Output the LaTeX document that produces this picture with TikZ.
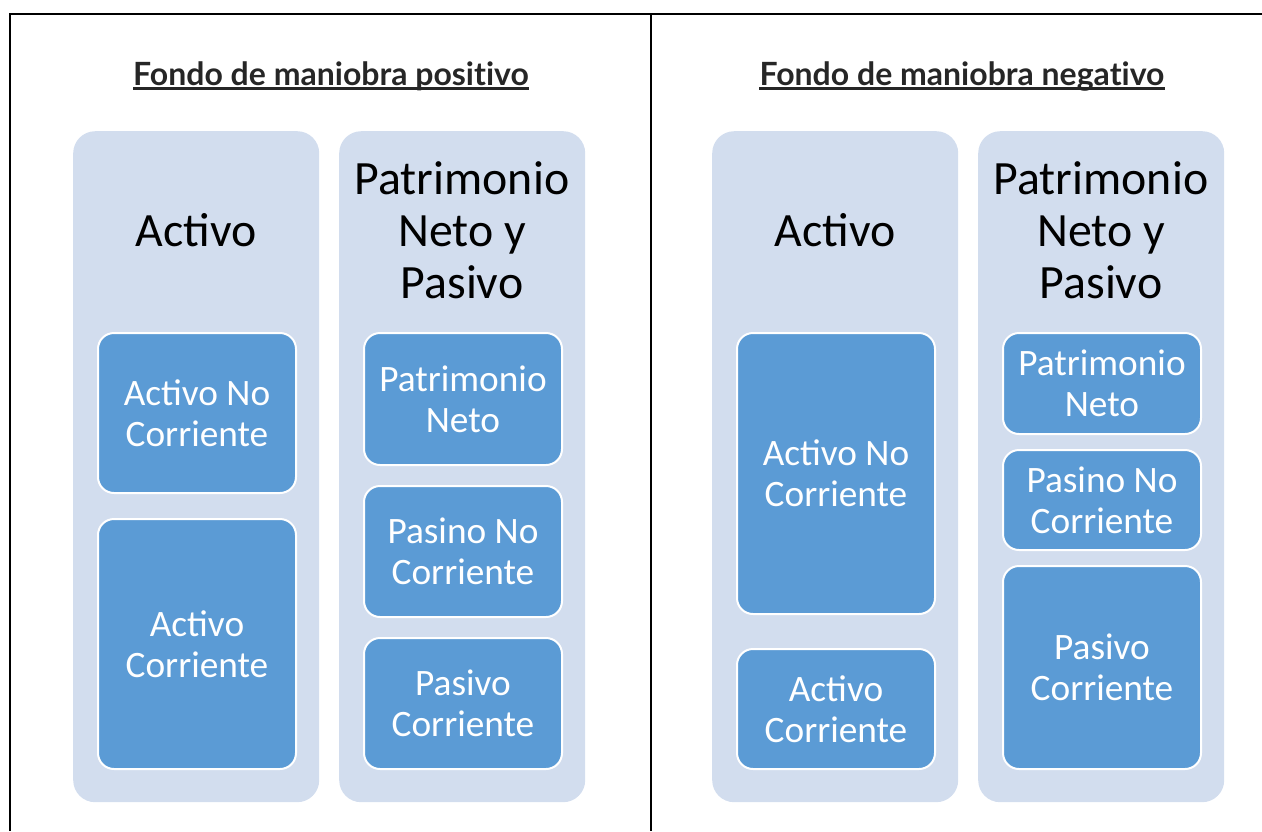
\documentclass[tikz,border=0pt]{standalone}
\usepackage{fontspec}
\setmainfont{Carlito}
\newfontfamily\titlefont[Ligatures=CommonOff]{Lato}
\usepackage{xcolor}
\definecolor{outerfill}{HTML}{D2DDEE}
\definecolor{innerfill}{HTML}{5B9BD5}
\definecolor{titlecol}{HTML}{262626}
\begin{document}
\begin{tikzpicture}[x=1pt,y=-1pt,
  outerbox/.style={fill=outerfill, draw=none, rounded corners=22pt, anchor=north west, minimum width=246pt, minimum height=671pt, inner sep=0pt},
  innerbox/.style={fill=innerfill, draw=white, line width=2pt, rounded corners=16pt, anchor=north west, minimum width=198pt, inner sep=0pt, text=white, align=center, font=\fontsize{37.3}{41}\selectfont},
  headtext/.style={align=center, text=black, font=\fontsize{47.8}{52}\selectfont, inner sep=0pt},
  titletext/.style={text=titlecol, font=\titlefont\bfseries\fontsize{32}{38}\selectfont, inner sep=0pt, anchor=base},
  uline/.style={draw=titlecol, line width=2.4pt},
  frame/.style={line width=2.5pt, black}]
\useasboundingbox (0,0) rectangle (1262,831);
% frame
\coordinate (ftl) at (10,14);
\coordinate (ftr) at (1262,14);
\coordinate (fbl) at (10,831);
\coordinate (fmt) at (651,14);
\coordinate (fmb) at (651,831);
\draw[frame] (fbl) -- (ftl) -- (ftr);
\draw[frame] (fmt) -- (fmb);
% titles
\node[titletext] (t1) at (331,85) {Fondo de maniobra positivo};
\node[titletext] (t2) at (962,85) {Fondo de maniobra negativo};
\draw[uline] ([yshift=-3.5pt]t1.base west) -- ([yshift=-3.5pt]t1.base east);
\draw[uline] ([yshift=-3.5pt]t2.base west) -- ([yshift=-3.5pt]t2.base east);
% left panel
\node[outerbox] (la) at (73,131) {};
\node[outerbox] (lp) at (339,131) {};
\node[headtext] (lah) at (196,230) {Activo};
\node[headtext] (lph) at (462,230) {Patrimonio\\Neto y\\Pasivo};
\node[innerbox, minimum height=160pt] (lanc) at (97,332) {Activo No\\Corriente};
\node[innerbox, minimum height=250pt] (lac) at (97,518) {Activo\\Corriente};
\node[innerbox, minimum height=132pt] (lpn) at (363,332) {Patrimonio\\Neto};
\node[innerbox, minimum height=131pt] (lpnc) at (363,485) {Pasino No\\Corriente};
\node[innerbox, minimum height=131pt] (lpc) at (363,637) {Pasivo\\Corriente};
% right panel
\node[outerbox] (ra) at (712,131) {};
\node[outerbox] (rp) at (978,131) {};
\node[headtext] (rah) at (835,230) {Activo};
\node[headtext] (rph) at (1101,230) {Patrimonio\\Neto y\\Pasivo};
\node[innerbox, minimum height=281pt] (ranc) at (736,332) {Activo No\\Corriente};
\node[innerbox, minimum height=120pt] (rac) at (736,648) {Activo\\Corriente};
\node[innerbox, minimum height=101pt] (rpn) at (1002,332) {Patrimonio\\Neto};
\node[innerbox, minimum height=100pt] (rpnc) at (1002,449) {Pasino No\\Corriente};
\node[innerbox, minimum height=203pt] (rpc) at (1002,565) {Pasivo\\Corriente};
\end{tikzpicture}
\end{document}
